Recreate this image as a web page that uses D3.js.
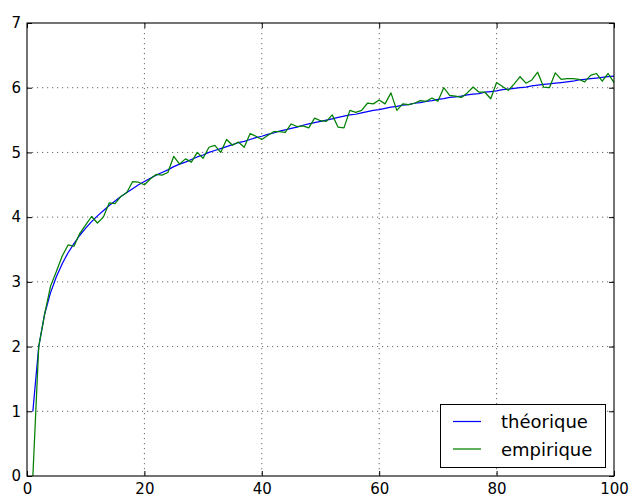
<!DOCTYPE html>
<html>
<head>
<meta charset="utf-8">
<script src="https://cdn.jsdelivr.net/npm/d3@7"></script>
<style>
  body { margin: 0; background: #fff; }
  text { font-family: "DejaVu Sans", sans-serif; fill: #000; }
</style>
</head>
<body>
<div id="chart"></div>
<script>
// Data
const nValues = d3.range(1, 101)

const theorique = [
  1.00, 2.00, 2.50, 2.83, 3.08, 3.28, 3.45, 3.59, 3.72, 3.83,
  3.93, 4.02, 4.10, 4.18, 4.25, 4.32, 4.38, 4.44, 4.50, 4.55,
  4.60, 4.65, 4.69, 4.73, 4.78, 4.82, 4.85, 4.89, 4.93, 4.96,
  5.00, 5.03, 5.06, 5.09, 5.12, 5.15, 5.17, 5.20, 5.23, 5.25,
  5.28, 5.30, 5.33, 5.35, 5.37, 5.39, 5.42, 5.44, 5.46, 5.48,
  5.50, 5.52, 5.54, 5.56, 5.58, 5.59, 5.61, 5.63, 5.65, 5.66,
  5.68, 5.70, 5.71, 5.73, 5.74, 5.76, 5.77, 5.79, 5.80, 5.82,
  5.83, 5.85, 5.86, 5.87, 5.89, 5.90, 5.91, 5.93, 5.94, 5.95,
  5.97, 5.98, 5.99, 6.00, 6.01, 6.03, 6.04, 6.05, 6.06, 6.07,
  6.08, 6.09, 6.10, 6.12, 6.13, 6.14, 6.15, 6.16, 6.17, 6.18
]

const empirique = [
  0.00, 2.00, 2.50, 2.93, 3.16, 3.40, 3.57, 3.55, 3.75, 3.88,
  4.01, 3.91, 4.00, 4.22, 4.21, 4.32, 4.38, 4.55, 4.54, 4.50,
  4.59, 4.66, 4.65, 4.69, 4.94, 4.82, 4.90, 4.85, 5.00, 4.91,
  5.08, 5.11, 5.00, 5.20, 5.11, 5.16, 5.08, 5.29, 5.25, 5.20,
  5.26, 5.32, 5.32, 5.31, 5.44, 5.40, 5.41, 5.38, 5.53, 5.49,
  5.48, 5.58, 5.39, 5.38, 5.65, 5.62, 5.65, 5.76, 5.75, 5.81,
  5.75, 5.92, 5.65, 5.75, 5.74, 5.76, 5.80, 5.79, 5.84, 5.79,
  6.00, 5.88, 5.87, 5.85, 5.92, 6.01, 5.93, 5.93, 5.83, 6.08,
  6.02, 5.96, 6.06, 6.17, 6.07, 6.12, 6.24, 6.01, 6.00, 6.23,
  6.13, 6.14, 6.14, 6.13, 6.09, 6.19, 6.22, 6.10, 6.22, 6.08
]

const xTicks = [0, 20, 40, 60, 80, 100]
const yTicks = [0, 1, 2, 3, 4, 5, 6, 7]
const seriesNames = ['théorique', 'empirique']
const seriesColors = ['#0000ff', '#008000']

// Layout
const width = 629
const height = 495
const plot = { left: 27, right: 614, top: 23, bottom: 476 }
const tickLen = 5

const svg = d3.select('#chart')
  .append('svg')
    .attr('width', width)
    .attr('height', height)

const x = d3.scaleLinear().domain([0, 100]).range([plot.left, plot.right])
const y = d3.scaleLinear().domain([0, 7]).range([plot.bottom, plot.top])

// Grid
const grid = svg.append('g')
  .attr('stroke', '#000')
  .attr('stroke-width', 0.6)
  .attr('stroke-dasharray', '1.2,3.8')

grid.selectAll('.vgrid')
  .data(xTicks.slice(1, -1))
  .enter()
  .append('line')
    .attr('x1', d => x(d)).attr('x2', d => x(d))
    .attr('y1', plot.top).attr('y2', plot.bottom)

grid.selectAll('.hgrid')
  .data(yTicks.slice(1, -1))
  .enter()
  .append('line')
    .attr('x1', plot.left).attr('x2', plot.right)
    .attr('y1', d => y(d)).attr('y2', d => y(d))

// Lines
const line = d3.line()
  .x((d, i) => x(nValues[i]))
  .y(d => y(d))

svg.append('clipPath').attr('id', 'plotclip')
  .append('rect')
    .attr('x', plot.left).attr('y', plot.top)
    .attr('width', plot.right - plot.left)
    .attr('height', plot.bottom - plot.top)

;[theorique, empirique].forEach((values, k) => {
  svg.append('path')
    .datum(values)
    .attr('clip-path', 'url(#plotclip)')
    .attr('fill', 'none')
    .attr('stroke', seriesColors[k])
    .attr('stroke-width', 1.25)
    .attr('stroke-linejoin', 'round')
    .attr('d', line)
})

// Axes (ticks inward on all four sides)
const fmt = d3.format('d')
const xAxisB = d3.axisBottom(x).tickValues(xTicks).tickFormat(fmt).tickSizeInner(-tickLen).tickSizeOuter(0).tickPadding(7)
const xAxisT = d3.axisTop(x).tickValues(xTicks).tickSizeInner(-tickLen).tickSizeOuter(0).tickFormat('')
const yAxisL = d3.axisLeft(y).tickValues(yTicks).tickFormat(fmt).tickSizeInner(-tickLen).tickSizeOuter(0).tickPadding(6)
const yAxisR = d3.axisRight(y).tickValues(yTicks).tickSizeInner(-tickLen).tickSizeOuter(0).tickFormat('')

const axes = [
  [xAxisB, `translate(0,${plot.bottom})`],
  [xAxisT, `translate(0,${plot.top})`],
  [yAxisL, `translate(${plot.left},0)`],
  [yAxisR, `translate(${plot.right},0)`]
]
axes.forEach(([ax, tr]) => {
  const g = svg.append('g').attr('transform', tr).call(ax)
  g.select('.domain').remove()
  g.selectAll('.tick line').attr('stroke', '#000').attr('stroke-width', 1)
  g.selectAll('.tick text')
    .attr('font-size', 15)
    .attr('font-family', '"DejaVu Sans", sans-serif')
    .attr('fill', '#000')
})

// Frame
svg.append('rect')
  .attr('x', plot.left).attr('y', plot.top)
  .attr('width', plot.right - plot.left)
  .attr('height', plot.bottom - plot.top)
  .attr('fill', 'none')
  .attr('stroke', '#000')
  .attr('stroke-width', 1.1)

// Legend
const legend = svg.append('g')
legend.append('rect')
  .attr('x', 440.5).attr('y', 404.5)
  .attr('width', 165).attr('height', 63)
  .attr('fill', '#fff')
  .attr('stroke', '#000')
  .attr('stroke-width', 1)

seriesNames.forEach((name, k) => {
  const ly = 421.5 + k * 27.5
  legend.append('line')
    .attr('x1', 453).attr('x2', 481)
    .attr('y1', ly).attr('y2', ly)
    .attr('stroke', seriesColors[k])
    .attr('stroke-width', 1.25)
  legend.append('text')
    .attr('x', 501).attr('y', ly)
    .attr('dominant-baseline', 'central')
    .attr('font-size', 18)
    .text(name)
})
</script>
</body>
</html>
